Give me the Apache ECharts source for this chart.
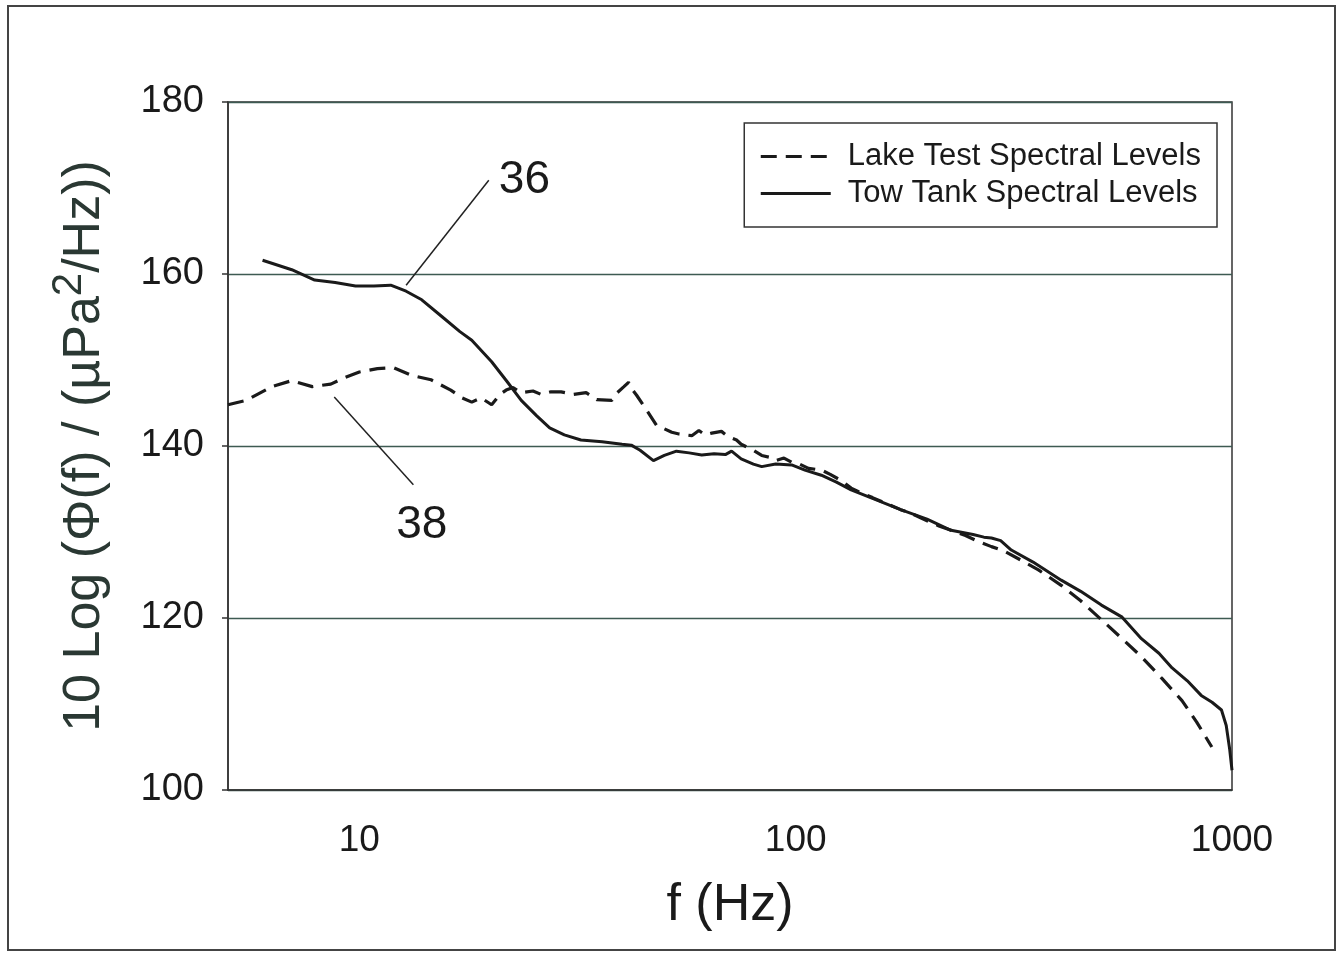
<!DOCTYPE html>
<html>
<head>
<meta charset="utf-8">
<title>Spectral levels</title>
<script src="https://cdn.jsdelivr.net/npm/echarts@6/dist/echarts.min.js"></script>
<style>
  html, body { margin: 0; padding: 0; background: #fff; }
  #chart { width: 1343px; height: 953px; }
</style>
</head>
<body>
<div id="chart"></div>
<script>
  // Lake test spectral levels (dashed)
  var lakeFreq = [5, 5.5, 6.3, 7, 7.8, 8.6, 9.3, 10, 11, 12, 13.2, 14.6, 16.2, 17.2, 18.1, 19, 20.1, 21, 21.7, 22.5,
    23.5, 25, 26.1, 27.5, 29, 31, 33.1, 35, 37.9, 39, 40.4, 41.4, 42.3, 43.2, 45.5, 48, 50, 52, 54, 57.8,
    60, 62, 64.2, 67.6, 70, 73.2, 75, 77.1, 80, 83.6, 87, 90, 94, 97.9, 102, 107, 114.5, 120, 127, 134,
    142, 150, 160, 174, 185, 200, 213, 227, 245, 262, 281, 300, 329, 360, 406, 450, 502, 560, 620, 690,
    768, 830, 899]
  var lakeDb = [144.8, 145.3, 146.9, 147.6, 146.9, 147.2, 148.0, 148.6, 149.0, 149.1, 148.2, 147.7, 146.5, 145.6, 145.1, 145.6, 144.8, 146.0, 146.5, 146.8,
    146.2, 146.4, 146.0, 146.3, 146.3, 146.0, 146.2, 145.4, 145.3, 146.2, 146.9, 147.4, 146.5, 145.9, 144.2, 142.4, 142.0, 141.6, 141.4, 141.2,
    141.8, 141.3, 141.5, 141.7, 141.1, 140.7, 140.2, 139.9, 139.5, 138.9, 138.7, 138.3, 138.6, 138.1, 137.9, 137.4, 137.2, 136.7, 136.0, 135.1,
    134.5, 134.0, 133.4, 132.6, 132.1, 131.3, 130.7, 130.2, 129.6, 128.9, 128.3, 127.8, 126.7, 125.6, 123.8, 122.0, 119.8, 117.6, 115.5, 113.0,
    110.4, 107.9, 105.0]

  // Tow tank spectral levels (solid)
  var tankFreq = [6, 7, 7.9, 8.8, 9.8, 10.8, 11.8, 12.8, 13.9, 15.5, 17, 18.1, 20.1, 21.8, 23.5, 25.5, 27.3, 29.5, 32.2, 36,
    40, 42, 44, 47.2, 50, 53.3, 57, 60.9, 65, 69, 71.3, 75, 80, 83.6, 90, 97.9, 105, 114.5, 124, 134,
    150, 174, 200, 227, 255, 270, 281, 295, 312, 350, 406, 450, 502, 560, 620, 680, 729, 790, 850, 900,
    946, 970, 988, 1000]
  var tankDb = [161.6, 160.5, 159.3, 159.0, 158.6, 158.6, 158.7, 158.0, 157.0, 155.0, 153.3, 152.3, 149.8, 147.5, 145.3, 143.5, 142.1, 141.3, 140.7, 140.5,
    140.2, 140.1, 139.5, 138.3, 138.9, 139.4, 139.2, 138.95, 139.1, 139.0, 139.4, 138.5, 137.9, 137.6, 137.9, 137.8, 137.2, 136.6, 135.8, 134.9,
    133.9, 132.6, 131.5, 130.2, 129.7, 129.4, 129.3, 129.0, 127.9, 126.5, 124.4, 123.1, 121.5, 120.1, 117.6, 115.9, 114.2, 112.7, 111.0, 110.2,
    109.3, 107.5, 104.7, 102.3]

  var yTicks = [100, 120, 140, 160, 180]
  var xTicks = [10, 100, 1000]

  function pairs(xs, ys) {
    return xs.map(function (x, i) { return [x, ys[i]] })
  }

  var chart = echarts.init(document.getElementById('chart'))
  var fontFam = 'Liberation Sans, Arial, sans-serif'
  var ink = '#1a1a1a'

  chart.setOption({
    animation: false,
    backgroundColor: '#fff',
    graphic: [{
      type: 'rect',
      shape: { x: 8, y: 6, width: 1327, height: 944 },
      style: { fill: 'none', stroke: '#444', lineWidth: 2 }
    }],
    grid: {
      left: 228,
      top: 102,
      right: 111,
      bottom: 163,
      show: true,
      borderColor: '#333',
      borderWidth: 1.5
    },
    legend: {
      orient: 'vertical',
      right: 126,
      top: 123,
      padding: [18, 16, 18, 15],
      itemWidth: 70,
      itemHeight: 26,
      itemGap: 6,
      borderColor: '#333',
      borderWidth: 1.5,
      backgroundColor: '#fff',
      itemStyle: { opacity: 0 },
      lineStyle: { width: 3 },
      textStyle: { fontFamily: fontFam, fontSize: 31, lineHeight: 31, color: ink, padding: [0, 0, 0, 12] },
      data: ['Lake Test Spectral Levels', 'Tow Tank Spectral Levels']
    },
    xAxis: {
      type: 'log',
      logBase: 10,
      min: 5,
      max: 1000,
      name: 'f (Hz)',
      nameLocation: 'middle',
      nameGap: 90,
      nameTextStyle: { fontFamily: fontFam, fontSize: 52, color: ink },
      axisLine: { lineStyle: { color: '#333', width: 1.5 } },
      axisTick: { show: false },
      splitLine: { show: false },
      minorTick: { show: false },
      axisLabel: {
        showMinLabel: false,
        margin: 32,
        fontFamily: fontFam,
        fontSize: 37,
        color: ink,
        formatter: function (v) { return xTicks.indexOf(Math.round(v)) >= 0 ? String(Math.round(v)) : '' }
      }
    },
    yAxis: {
      type: 'value',
      min: 100,
      max: 180,
      interval: 20,
      name: '{a|10 Log (Φ(f) / (µPa}{s|2}{a|/Hz))}',
      nameLocation: 'middle',
      nameGap: 106,
      nameTextStyle: {
        rich: {
          a: { fontFamily: fontFam, fontSize: 52, color: '#2a3833' },
          s: { fontFamily: fontFam, fontSize: 42, color: '#2a3833', padding: [0, 0, 32, 0] }
        }
      },
      axisLine: { show: true, lineStyle: { color: '#333', width: 1.5 } },
      axisTick: { show: true, length: 6, lineStyle: { color: '#333', width: 1.5 } },
      splitLine: { lineStyle: { color: '#3d5a52', width: 1.3 } },
      axisLabel: {
        margin: 24,
        fontFamily: fontFam,
        fontSize: 38,
        color: ink,
        formatter: function (v) { return yTicks.indexOf(v) >= 0 ? String(v) : '' }
      }
    },
    series: [{
      name: 'Lake Test Spectral Levels',
      type: 'line',
      symbol: 'none',
      data: pairs(lakeFreq, lakeDb),
      lineStyle: { color: ink, width: 3.2, type: [16, 9] },
      itemStyle: { color: ink },
      markLine: {
        silent: true,
        symbol: 'none',
        label: { show: false },
        lineStyle: { color: '#222', width: 1.5, type: 'solid' },
        data: [[{ coord: [8.76, 145.7] }, { coord: [13.3, 135.5] }]]
      },
      markPoint: {
        symbolSize: 0,
        label: { show: true, formatter: '38', fontFamily: fontFam, fontSize: 46, color: ink },
        data: [{ coord: [13.9, 130.8] }]
      }
    }, {
      name: 'Tow Tank Spectral Levels',
      type: 'line',
      symbol: 'none',
      data: pairs(tankFreq, tankDb),
      lineStyle: { color: ink, width: 3, type: 'solid' },
      itemStyle: { color: ink },
      markLine: {
        silent: true,
        symbol: 'none',
        label: { show: false },
        lineStyle: { color: '#222', width: 1.5, type: 'solid' },
        data: [[{ coord: [12.8, 158.7] }, { coord: [19.8, 170.9] }]]
      },
      markPoint: {
        symbolSize: 0,
        label: { show: true, formatter: '36', fontFamily: fontFam, fontSize: 46, color: ink },
        data: [{ coord: [23.9, 170.9] }]
      }
    }]
  })
</script>
</body>
</html>
